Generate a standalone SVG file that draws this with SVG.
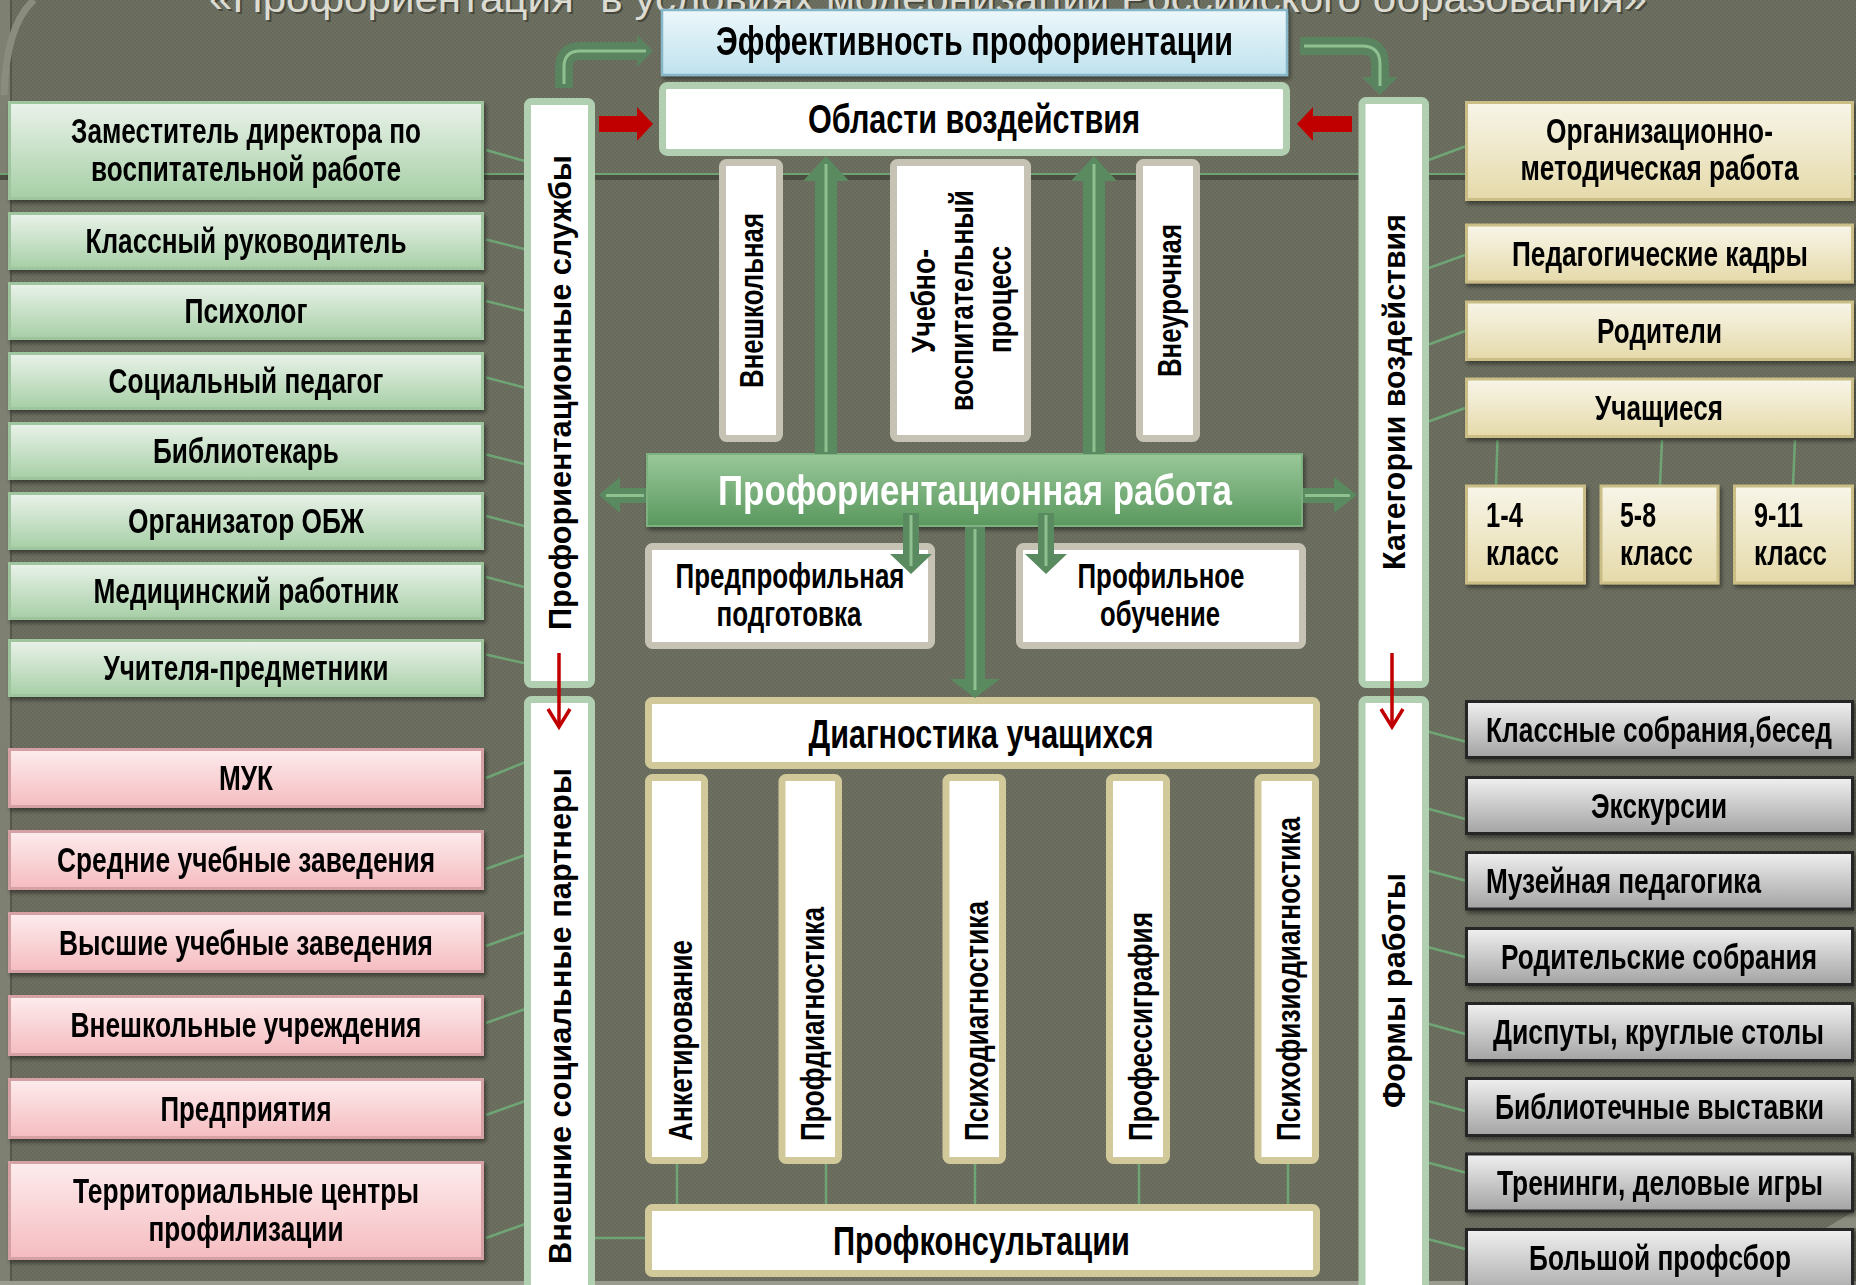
<svg xmlns="http://www.w3.org/2000/svg" width="1856" height="1285" viewBox="0 0 1856 1285">
<defs>
<pattern id="tex" width="4" height="4" patternUnits="userSpaceOnUse"><rect width="4" height="4" fill="#67695a"/><rect width="2" height="2" fill="#6e7062"/><rect x="2" y="2" width="2" height="2" fill="#6e7062"/></pattern>
<linearGradient id="gGreen" x1="0" y1="0" x2="0" y2="1"><stop offset="0" stop-color="#eaf2ea"/><stop offset="1" stop-color="#a6cfa6"/></linearGradient>
<linearGradient id="gPink" x1="0" y1="0" x2="0" y2="1"><stop offset="0" stop-color="#fdeced"/><stop offset="1" stop-color="#f5bcc0"/></linearGradient>
<linearGradient id="gBeige" x1="0" y1="0" x2="0" y2="1"><stop offset="0" stop-color="#f8f5e8"/><stop offset="1" stop-color="#e5daaa"/></linearGradient>
<linearGradient id="gGray" x1="0" y1="0" x2="0" y2="1"><stop offset="0" stop-color="#f0f0f0"/><stop offset="1" stop-color="#a3a3a3"/></linearGradient>
<linearGradient id="gBlue" x1="0" y1="0" x2="0" y2="1"><stop offset="0" stop-color="#ecf7fb"/><stop offset="1" stop-color="#bfe2ed"/></linearGradient>
<linearGradient id="gWork" x1="0" y1="0" x2="0" y2="1"><stop offset="0" stop-color="#99c899"/><stop offset="1" stop-color="#5a985e"/></linearGradient>
<filter id="sh" x="-5%" y="-10%" width="115%" height="140%"><feDropShadow dx="2" dy="3" stdDeviation="2" flood-color="#000" flood-opacity="0.45"/></filter>
</defs>
<style>
.t{font-family:'Liberation Sans Narrow','Liberation Sans',Arial,sans-serif;font-weight:bold;fill:#000;font-size:35px}
.v{font-size:34px}
.tw{font-family:'Liberation Sans',Arial,sans-serif;font-weight:bold;fill:#000}
.c{text-anchor:middle}
.gbox{fill:url(#gGreen);stroke:#9ec59e;stroke-width:3}
.pbox{fill:url(#gPink);stroke:#d6a1a5;stroke-width:3}
.bbox{fill:url(#gBeige);stroke:#cabd86;stroke-width:3}
.xbox{fill:url(#gGray);stroke:#262626;stroke-width:3}
.panel{fill:#fff;stroke:#b1cfb1;stroke-width:7}
.gr{fill:#fff;stroke:#c6c3b4;stroke-width:7}
.kh{fill:#fff;stroke:#d2c99b;stroke-width:7}
.ln{stroke:#6fa575;stroke-width:2.5;fill:none}
.arr{fill:#5a8a5f}
.arrl{stroke:#8fc08f;stroke-width:3;fill:none}
.red{fill:#c00000}
.redl{stroke:#c00000;stroke-width:3.5;fill:none}
</style>

<!-- background -->
<rect width="1856" height="1285" fill="url(#tex)"/>
<rect x="0" y="0" width="10" height="1285" fill="#7e8172"/>
<rect x="10" y="0" width="2" height="1285" fill="#55574a"/>
<path d="M4,95 Q6,25 34,0" stroke="#8a8d7e" stroke-width="7" fill="none"/>
<rect x="0" y="173" width="1856" height="2" fill="#6ea272"/>
<rect x="0" y="175" width="1856" height="5" fill="#4b4d42"/>
<rect x="0" y="1281" width="1856" height="4" fill="#9a9c90"/>
<polygon points="1826,1228 1856,1210 1856,1228" fill="#8a8d7e"/>

<!-- title -->
<g id="title">
<text x="930" y="14" font-family="'Liberation Sans',Arial,sans-serif" font-size="40" fill="#2e3028" fill-opacity="0.6" text-anchor="middle" textLength="1438" lengthAdjust="spacingAndGlyphs">«Профориентация" в условиях модернизации Российского образования»</text>
<text x="928" y="12" font-family="'Liberation Sans',Arial,sans-serif" font-size="40" fill="#dcdcd3" text-anchor="middle" textLength="1438" lengthAdjust="spacingAndGlyphs">«Профориентация" в условиях модернизации Российского образования»</text>
</g>

<!-- connectors -->
<g id="connectors">
<line class="ln" x1="486" y1="150" x2="528" y2="162"/>
<line class="ln" x1="486" y1="239.5" x2="528" y2="250"/>
<line class="ln" x1="486" y1="301" x2="528" y2="311.5"/>
<line class="ln" x1="486" y1="377.5" x2="528" y2="388.5"/>
<line class="ln" x1="486" y1="454.5" x2="528" y2="465"/>
<line class="ln" x1="486" y1="516" x2="528" y2="527"/>
<line class="ln" x1="486" y1="577" x2="528" y2="588"/>
<line class="ln" x1="486" y1="654.5" x2="528" y2="664"/>
<line class="ln" x1="486" y1="778" x2="528" y2="761"/>
<line class="ln" x1="486" y1="869" x2="528" y2="854"/>
<line class="ln" x1="486" y1="946" x2="528" y2="931"/>
<line class="ln" x1="486" y1="1023" x2="528" y2="1008"/>
<line class="ln" x1="486" y1="1115" x2="528" y2="1100"/>
<line class="ln" x1="486" y1="1238" x2="528" y2="1223"/>
<line class="ln" x1="1422" y1="162.5" x2="1465" y2="146.5"/>
<line class="ln" x1="1422" y1="270.5" x2="1465" y2="255"/>
<line class="ln" x1="1422" y1="347" x2="1465" y2="331"/>
<line class="ln" x1="1422" y1="424" x2="1465" y2="408"/>
<line class="ln" x1="1497.5" y1="440" x2="1496" y2="485"/>
<line class="ln" x1="1662" y1="440" x2="1660" y2="485"/>
<line class="ln" x1="1795" y1="440" x2="1793" y2="485"/>
<line class="ln" x1="1422" y1="730" x2="1465" y2="741.5"/>
<line class="ln" x1="1422" y1="807" x2="1465" y2="819"/>
<line class="ln" x1="1422" y1="869" x2="1465" y2="880.5"/>
<line class="ln" x1="1422" y1="945.5" x2="1465" y2="957"/>
<line class="ln" x1="1422" y1="1022" x2="1465" y2="1034"/>
<line class="ln" x1="1422" y1="1099.5" x2="1465" y2="1111"/>
<line class="ln" x1="1422" y1="1161" x2="1465" y2="1172.5"/>
<line class="ln" x1="1422" y1="1237.5" x2="1465" y2="1249"/>
<line class="ln" x1="677" y1="1164" x2="677" y2="1204"/>
<line class="ln" x1="826" y1="1164" x2="826" y2="1204"/>
<line class="ln" x1="975" y1="1164" x2="975" y2="1204"/>
<line class="ln" x1="1139" y1="1164" x2="1139" y2="1204"/>
<line class="ln" x1="1288" y1="1164" x2="1288" y2="1204"/>
<line class="ln" x1="595" y1="1238" x2="645" y2="1238"/>
</g>

<!-- left green nodes -->
<g id="n-zam" filter="url(#sh)"><rect class="gbox" x="9.5" y="102.5" width="473" height="96"/>
<text class="t c" x="246" y="143" textLength="350" lengthAdjust="spacingAndGlyphs">Заместитель директора по</text>
<text class="t c" x="246" y="181" textLength="310" lengthAdjust="spacingAndGlyphs">воспитательной работе</text></g>
<g id="n-klass" filter="url(#sh)"><rect class="gbox" x="9.5" y="213.5" width="473" height="55"/>
<text class="t c" x="246" y="253" textLength="321" lengthAdjust="spacingAndGlyphs">Классный руководитель</text></g>
<g id="n-psih" filter="url(#sh)"><rect class="gbox" x="9.5" y="283.5" width="473" height="55"/>
<text class="t c" x="246" y="323" textLength="123" lengthAdjust="spacingAndGlyphs">Психолог</text></g>
<g id="n-socped" filter="url(#sh)"><rect class="gbox" x="9.5" y="353.5" width="473" height="55"/>
<text class="t c" x="246" y="393" textLength="275" lengthAdjust="spacingAndGlyphs">Социальный педагог</text></g>
<g id="n-bibl" filter="url(#sh)"><rect class="gbox" x="9.5" y="423.5" width="473" height="55"/>
<text class="t c" x="246" y="463" textLength="186" lengthAdjust="spacingAndGlyphs">Библиотекарь</text></g>
<g id="n-obzh" filter="url(#sh)"><rect class="gbox" x="9.5" y="493.5" width="473" height="55"/>
<text class="t c" x="246" y="533" textLength="236" lengthAdjust="spacingAndGlyphs">Организатор ОБЖ</text></g>
<g id="n-med" filter="url(#sh)"><rect class="gbox" x="9.5" y="563.5" width="473" height="55"/>
<text class="t c" x="246" y="603" textLength="305" lengthAdjust="spacingAndGlyphs">Медицинский работник</text></g>
<g id="n-uchit" filter="url(#sh)"><rect class="gbox" x="9.5" y="640.5" width="473" height="55"/>
<text class="t c" x="246" y="680" textLength="285" lengthAdjust="spacingAndGlyphs">Учителя-предметники</text></g>

<!-- left pink nodes -->
<g id="n-muk" filter="url(#sh)"><rect class="pbox" x="9.5" y="749.5" width="473" height="57"/>
<text class="t c" x="246" y="790" textLength="54" lengthAdjust="spacingAndGlyphs">МУК</text></g>
<g id="n-sred" filter="url(#sh)"><rect class="pbox" x="9.5" y="831.5" width="473" height="57"/>
<text class="t c" x="246" y="872" textLength="378" lengthAdjust="spacingAndGlyphs">Средние учебные заведения</text></g>
<g id="n-vys" filter="url(#sh)"><rect class="pbox" x="9.5" y="913.5" width="473" height="58"/>
<text class="t c" x="246" y="954.5" textLength="374" lengthAdjust="spacingAndGlyphs">Высшие учебные заведения</text></g>
<g id="n-vneshuch" filter="url(#sh)"><rect class="pbox" x="9.5" y="996.5" width="473" height="58"/>
<text class="t c" x="246" y="1037" textLength="351" lengthAdjust="spacingAndGlyphs">Внешкольные учреждения</text></g>
<g id="n-pred" filter="url(#sh)"><rect class="pbox" x="9.5" y="1079.5" width="473" height="58"/>
<text class="t c" x="246" y="1120.5" textLength="171" lengthAdjust="spacingAndGlyphs">Предприятия</text></g>
<g id="n-terr" filter="url(#sh)"><rect class="pbox" x="9.5" y="1162.5" width="473" height="96"/>
<text class="t c" x="246" y="1203" textLength="346" lengthAdjust="spacingAndGlyphs">Территориальные центры</text>
<text class="t c" x="246" y="1241" textLength="195" lengthAdjust="spacingAndGlyphs">профилизации</text></g>

<!-- left panels -->
<g id="n-sluzhby"><rect class="panel" x="527.5" y="101.5" width="64" height="583" rx="4"/>
<text class="tw c" font-size="32" transform="translate(571,392.5) rotate(-90)" textLength="475" lengthAdjust="spacingAndGlyphs">Профориентационные службы</text></g>
<g id="n-partnery"><rect class="panel" x="527.5" y="699.5" width="64" height="600" rx="4"/>
<text class="tw c" font-size="32" transform="translate(571,1016) rotate(-90)" textLength="496" lengthAdjust="spacingAndGlyphs">Внешние социальные партнеры</text></g>

<!-- right panels -->
<g id="n-kategorii"><rect class="panel" x="1362" y="100.5" width="63.5" height="584" rx="4"/>
<text class="tw c" font-size="31" transform="translate(1405,392) rotate(-90)" textLength="356" lengthAdjust="spacingAndGlyphs">Категории воздействия</text></g>
<g id="n-formy"><rect class="panel" x="1362" y="699.5" width="63.5" height="600" rx="4"/>
<text class="tw c" font-size="31" transform="translate(1405,990.5) rotate(-90)" textLength="235" lengthAdjust="spacingAndGlyphs">Формы работы</text></g>

<!-- right beige nodes -->
<g id="n-orgmet" filter="url(#sh)"><rect class="bbox" x="1466.5" y="102.5" width="386" height="97"/>
<text class="t c" x="1659.5" y="143" textLength="227" lengthAdjust="spacingAndGlyphs">Организационно-</text>
<text class="t c" x="1659.5" y="180" textLength="278" lengthAdjust="spacingAndGlyphs">методическая работа</text></g>
<g id="n-pedkadry" filter="url(#sh)"><rect class="bbox" x="1466.5" y="225" width="386" height="57"/>
<text class="t c" x="1660" y="266" textLength="296" lengthAdjust="spacingAndGlyphs">Педагогические кадры</text></g>
<g id="n-roditeli" filter="url(#sh)"><rect class="bbox" x="1466.5" y="302" width="386" height="57.5"/>
<text class="t c" x="1659.5" y="343" textLength="125" lengthAdjust="spacingAndGlyphs">Родители</text></g>
<g id="n-uchashchiesya" filter="url(#sh)"><rect class="bbox" x="1466.5" y="379" width="386" height="57.5"/>
<text class="t c" x="1659" y="420" textLength="128" lengthAdjust="spacingAndGlyphs">Учащиеся</text></g>
<g id="n-k14" filter="url(#sh)"><rect class="bbox" x="1466.5" y="486" width="118" height="97"/>
<text class="t" x="1486" y="527" textLength="37" lengthAdjust="spacingAndGlyphs">1-4</text>
<text class="t" x="1486" y="565" textLength="73" lengthAdjust="spacingAndGlyphs">класс</text></g>
<g id="n-k58" filter="url(#sh)"><rect class="bbox" x="1601" y="486" width="117" height="97"/>
<text class="t" x="1620" y="527" textLength="36" lengthAdjust="spacingAndGlyphs">5-8</text>
<text class="t" x="1620" y="565" textLength="73" lengthAdjust="spacingAndGlyphs">класс</text></g>
<g id="n-k911" filter="url(#sh)"><rect class="bbox" x="1734.5" y="486" width="118" height="97"/>
<text class="t" x="1754" y="527" textLength="49" lengthAdjust="spacingAndGlyphs">9-11</text>
<text class="t" x="1754" y="565" textLength="73" lengthAdjust="spacingAndGlyphs">класс</text></g>

<!-- right gray nodes -->
<g id="n-klsobr" filter="url(#sh)"><rect class="xbox" x="1466.5" y="701.5" width="386" height="56"/>
<text class="t c" x="1659" y="742" textLength="346" lengthAdjust="spacingAndGlyphs">Классные собрания,бесед</text></g>
<g id="n-ekskursii" filter="url(#sh)"><rect class="xbox" x="1466.5" y="777.5" width="386" height="56"/>
<text class="t c" x="1659" y="818" textLength="136" lengthAdjust="spacingAndGlyphs">Экскурсии</text></g>
<g id="n-muzped" filter="url(#sh)"><rect class="xbox" x="1466.5" y="852.5" width="386" height="56.5"/>
<text class="t" x="1486" y="893" textLength="275" lengthAdjust="spacingAndGlyphs">Музейная педагогика</text></g>
<g id="n-rodsobr" filter="url(#sh)"><rect class="xbox" x="1466.5" y="928.5" width="386" height="56"/>
<text class="t c" x="1659" y="969" textLength="316" lengthAdjust="spacingAndGlyphs">Родительские собрания</text></g>
<g id="n-disputy" filter="url(#sh)"><rect class="xbox" x="1466.5" y="1003.5" width="386" height="57"/>
<text class="t c" x="1658.5" y="1044" textLength="331" lengthAdjust="spacingAndGlyphs">Диспуты, круглые столы</text></g>
<g id="n-biblvyst" filter="url(#sh)"><rect class="xbox" x="1466.5" y="1078.5" width="386" height="57"/>
<text class="t c" x="1659.5" y="1119" textLength="329" lengthAdjust="spacingAndGlyphs">Библиотечные выставки</text></g>
<g id="n-treningi" filter="url(#sh)"><rect class="xbox" x="1466.5" y="1154" width="386" height="57"/>
<text class="t c" x="1660" y="1195" textLength="326" lengthAdjust="spacingAndGlyphs">Тренинги, деловые игры</text></g>
<g id="n-profsbor" filter="url(#sh)"><rect class="xbox" x="1466.5" y="1229.5" width="386" height="70"/>
<text class="t c" x="1660" y="1270" textLength="262" lengthAdjust="spacingAndGlyphs">Большой профсбор</text></g>

<!-- centre top -->
<g id="n-effekt" filter="url(#sh)"><rect x="662" y="10" width="625" height="65" fill="url(#gBlue)" stroke="#86b6c7" stroke-width="2.5"/>
<text class="t c" font-size="40" style="font-size:40px" x="974.5" y="55" textLength="517" lengthAdjust="spacingAndGlyphs">Эффективность профориентации</text></g>
<g id="n-oblasti"><rect x="662.5" y="85.5" width="624" height="67" rx="5" fill="#fff" stroke="#b2cfb2" stroke-width="7"/>
<text class="t c" style="font-size:40px" x="974" y="133" textLength="332" lengthAdjust="spacingAndGlyphs">Области воздействия</text></g>

<g id="n-vneshkolnaya"><rect class="gr" x="722.5" y="162.5" width="57" height="276" rx="4"/>
<text class="t c v" transform="translate(763,300.5) rotate(-90)" textLength="175" lengthAdjust="spacingAndGlyphs">Внешкольная</text></g>
<g id="n-uvp"><rect class="gr" x="893.5" y="162.5" width="134" height="276" rx="4"/>
<text class="t c v" transform="translate(935,301) rotate(-90)" textLength="104" lengthAdjust="spacingAndGlyphs">Учебно-</text>
<text class="t c v" transform="translate(973,300.5) rotate(-90)" textLength="221" lengthAdjust="spacingAndGlyphs">воспитательный</text>
<text class="t c v" transform="translate(1011,299.5) rotate(-90)" textLength="107" lengthAdjust="spacingAndGlyphs">процесс</text></g>
<g id="n-vneurochnaya"><rect class="gr" x="1139.5" y="162.5" width="57" height="276" rx="4"/>
<text class="t c v" transform="translate(1181,300.5) rotate(-90)" textLength="153" lengthAdjust="spacingAndGlyphs">Внеурочная</text></g>

<!-- profwork -->
<g id="n-profwork" filter="url(#sh)"><rect x="647" y="454" width="655" height="72" fill="url(#gWork)" stroke="#7db17f" stroke-width="2"/>
<text class="t c" x="975" y="505" style="fill:#fff;font-size:42px" textLength="514" lengthAdjust="spacingAndGlyphs">Профориентационная работа</text></g>

<g id="n-predprof"><rect class="gr" x="648.5" y="546.5" width="283" height="99" rx="4"/>
<text class="t c" x="790" y="588" textLength="229" lengthAdjust="spacingAndGlyphs">Предпрофильная</text>
<text class="t c" x="789" y="626" textLength="145" lengthAdjust="spacingAndGlyphs">подготовка</text></g>
<g id="n-profobuch"><rect class="gr" x="1019.5" y="546.5" width="283" height="99" rx="4"/>
<text class="t c" x="1161" y="588" textLength="167" lengthAdjust="spacingAndGlyphs">Профильное</text>
<text class="t c" x="1160" y="626" textLength="120" lengthAdjust="spacingAndGlyphs">обучение</text></g>

<!-- diagnostics -->
<g id="n-diag"><rect class="kh" x="648.5" y="700.5" width="668" height="65" rx="4"/>
<text class="t c" style="font-size:40px" x="981" y="748" textLength="345" lengthAdjust="spacingAndGlyphs">Диагностика учащихся</text></g>
<g id="n-anket"><rect class="kh" x="648.5" y="777.5" width="56" height="383" rx="4"/>
<text class="t v" transform="translate(692,1141) rotate(-90)" textLength="201" lengthAdjust="spacingAndGlyphs">Анкетирование</text></g>
<g id="n-profdiag"><rect class="kh" x="782" y="777.5" width="56.5" height="383" rx="4"/>
<text class="t v" transform="translate(824,1141) rotate(-90)" textLength="234" lengthAdjust="spacingAndGlyphs">Профдиагностика</text></g>
<g id="n-psihodiag"><rect class="kh" x="946" y="777.5" width="56.5" height="383" rx="4"/>
<text class="t v" transform="translate(988,1141) rotate(-90)" textLength="240" lengthAdjust="spacingAndGlyphs">Психодиагностика</text></g>
<g id="n-profgraf"><rect class="kh" x="1109.5" y="777.5" width="57" height="383" rx="4"/>
<text class="t v" transform="translate(1152,1141) rotate(-90)" textLength="229" lengthAdjust="spacingAndGlyphs">Профессиграфия</text></g>
<g id="n-psihofiz"><rect class="kh" x="1258" y="777.5" width="57.5" height="383" rx="4"/>
<text class="t v" transform="translate(1300,1141) rotate(-90)" textLength="324" lengthAdjust="spacingAndGlyphs">Психофизиодиагностика</text></g>
<g id="n-profkons"><rect class="kh" x="648.5" y="1207.5" width="668" height="66" rx="4"/>
<text class="t c" style="font-size:40px" x="981.5" y="1255" textLength="297" lengthAdjust="spacingAndGlyphs">Профконсультации</text></g>

<!-- arrows -->
<g id="arrows">
<path d="M564,88 V67 Q564,51 580,51 H638" stroke="#5a8460" stroke-width="18" fill="none"/>
<polygon points="637,35 653,51 637,67" fill="#5a8460"/>
<path d="M564,84 V67 Q564,51 580,51 H646" class="arrl"/>
<path d="M1300,46 H1362 Q1380,46 1380,64 V78" stroke="#5a8460" stroke-width="18" fill="none"/>
<polygon points="1362,77 1380,95 1398,77" fill="#5a8460"/>
<path d="M1304,46 H1362 Q1380,46 1380,64 V86" class="arrl"/>

<polygon class="red" points="599,116 637,116 637,107 653,124 637,141 637,132 599,132"/>
<polygon class="red" points="1352,116 1313,116 1313,107 1297,124 1313,141 1313,132 1352,132"/>

<polygon class="arr" points="815,454 815,181 803,181 826,156 849,181 837,181 837,454"/>
<line class="arrl" x1="826" y1="452" x2="826" y2="164"/>
<polygon class="arr" points="1083,454 1083,181 1071,181 1094,156 1117,181 1105,181 1105,454"/>
<line class="arrl" x1="1094" y1="452" x2="1094" y2="164"/>

<polygon class="arr" points="903,513 903,554 890,554 911,574 932,554 919,554 919,513"/>
<line class="arrl" x1="911" y1="515" x2="911" y2="566"/>
<polygon class="arr" points="1038,513 1038,554 1025,554 1046,574 1067,554 1054,554 1054,513"/>
<line class="arrl" x1="1046" y1="515" x2="1046" y2="566"/>
<polygon class="arr" points="965,527 965,679 950,679 975,698 1000,679 985,679 985,527"/>
<line class="arrl" x1="975" y1="529" x2="975" y2="690"/>

<polygon class="arr" points="646,488 620,488 620,477 599,495 620,513 620,503 646,503"/>
<line class="arrl" x1="644" y1="495.5" x2="606" y2="495.5"/>
<polygon class="arr" points="1303,488 1334,488 1334,477 1357,495 1334,513 1334,503 1303,503"/>
<line class="arrl" x1="1305" y1="495.5" x2="1350" y2="495.5"/>

<line class="redl" x1="559" y1="653" x2="559" y2="726"/>
<polyline class="redl" points="548,709 559,727 570,709"/>
<line class="redl" x1="1392" y1="653" x2="1392" y2="726"/>
<polyline class="redl" points="1381,709 1392,727 1403,709"/>
</g>
</svg>
